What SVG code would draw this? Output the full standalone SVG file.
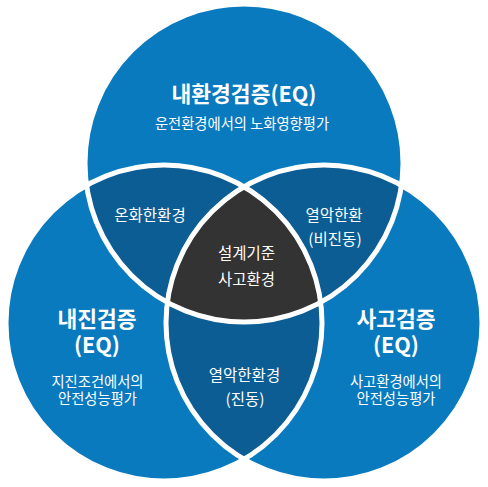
<svg xmlns="http://www.w3.org/2000/svg" width="488" height="487" viewBox="0 0 488 487">
  <style>
    .base { fill: #0a7abf; }
    .lens { fill: #0b5d94; }
    .core { fill: #333333; }
    .ring { fill: none; stroke: #ffffff; stroke-width: 5; }
    text { font-family: "Noto Sans CJK KR", "Noto Sans", sans-serif; fill: #ffffff; text-anchor: middle; }
    .title { font-size: 21.5px; font-weight: bold; }
    .sub { font-size: 14.3px; }
    .mid { font-size: 15.5px; }
  </style>
  <defs>
    <clipPath id="cT"><circle cx="244" cy="163" r="159"/></clipPath>
    <clipPath id="cL"><circle cx="164" cy="323" r="158"/></clipPath>
    <clipPath id="cR"><circle cx="324" cy="323" r="158"/></clipPath>
  </defs>

  <rect width="488" height="487" fill="#ffffff"/>

  <g id="base-circles">
    <circle class="base" cx="244" cy="163" r="159"/>
    <circle class="base" cx="164" cy="323" r="158"/>
    <circle class="base" cx="324" cy="323" r="158"/>
  </g>

  <g id="overlap-TL"><circle class="lens" cx="164" cy="323" r="158" clip-path="url(#cT)"/></g>
  <g id="overlap-TR"><circle class="lens" cx="324" cy="323" r="158" clip-path="url(#cT)"/></g>
  <g id="overlap-LR"><circle class="lens" cx="324" cy="323" r="158" clip-path="url(#cL)"/></g>
  <g id="overlap-core" clip-path="url(#cR)"><circle class="core" cx="244" cy="163" r="159" clip-path="url(#cL)"/></g>

  <g id="rings">
    <circle class="ring" cx="244" cy="163" r="159"/>
    <circle class="ring" cx="164" cy="323" r="158"/>
    <circle class="ring" cx="324" cy="323" r="158"/>
  </g>

  <g id="node-top">
    <text class="title" x="244" y="101.5">내환경검증(EQ)</text>
    <text class="sub" x="242" y="129">운전환경에서의 노화영향평가</text>
  </g>
  <g id="node-left">
    <text class="title" x="97" y="327">내진검증</text>
    <text class="title" x="97" y="353">(EQ)</text>
    <text class="sub" x="97.5" y="387">지진조건에서의</text>
    <text class="sub" x="97.5" y="404">안전성능평가</text>
  </g>
  <g id="node-right">
    <text class="title" x="396" y="327">사고검증</text>
    <text class="title" x="396" y="353">(EQ)</text>
    <text class="sub" x="396" y="387">사고환경에서의</text>
    <text class="sub" x="396" y="404">안전성능평가</text>
  </g>
  <g id="node-tl">
    <text class="mid" x="150" y="221">온화한환경</text>
  </g>
  <g id="node-tr">
    <text class="mid" x="334" y="221">열악한환</text>
    <text class="mid" x="335" y="245">(비진동)</text>
  </g>
  <g id="node-lr">
    <text class="mid" x="244.5" y="381">열악한환경</text>
    <text class="mid" x="245" y="405">(진동)</text>
  </g>
  <g id="node-core">
    <text class="mid" x="246.5" y="259">설계기준</text>
    <text class="mid" x="246.5" y="285">사고환경</text>
  </g>
</svg>
